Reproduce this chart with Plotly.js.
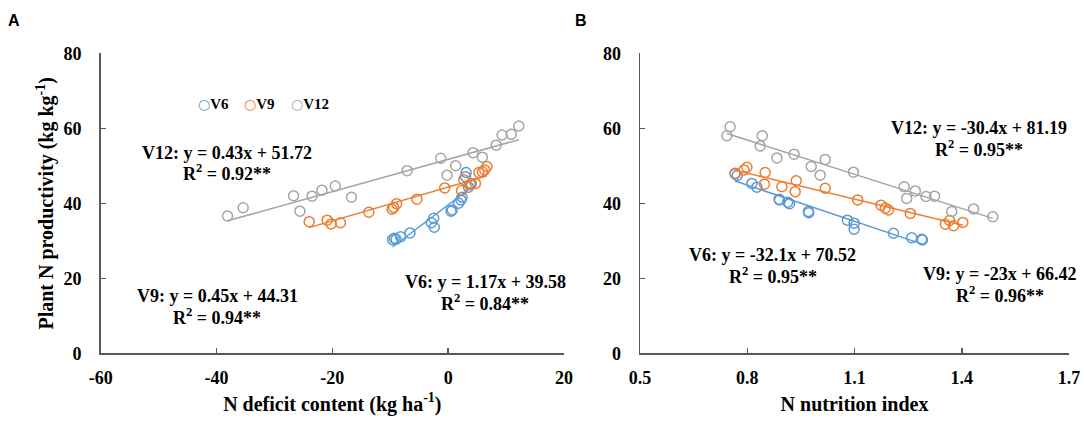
<!DOCTYPE html>
<html>
<head>
<meta charset="utf-8">
<script src="https://cdn.plot.ly/plotly-3.0.1.min.js"></script>
<style>
  html, body { margin: 0; padding: 0; background: #fff; }
  #chart { width: 1084px; height: 438px; }
</style>
</head>
<body>
<div id="chart"></div>
<script>
// series names and colours
const stages = ['V6', 'V9', 'V12'];
const colors = ['#5B9BD5', '#ED7D31', '#A5A5A5'];

// panel A: N deficit content vs plant N productivity
const ndV6x = [-9.6, -9.3, -9.0, -8.2, -6.6, -2.9, -2.5, -2.4, 0.5, 0.7, 1.8, 2.2, 2.4, 3.0, 3.1, 3.5, 4.0];
const ndV6y = [30.3, 30.7, 30.4, 31.1, 32.1, 34.8, 36.0, 33.6, 37.9, 38.2, 40.0, 40.9, 41.6, 47.1, 48.2, 44.3, 45.2];
const ndV9x = [-24.0, -20.9, -20.2, -18.6, -13.7, -9.7, -9.4, -8.9, -5.4, -0.6, 2.3, 2.7, 3.8, 4.7, 5.3, 5.9, 6.3, 6.7];
const ndV9y = [35.1, 35.5, 34.5, 34.8, 37.6, 38.4, 38.9, 39.9, 41.1, 44.1, 43.4, 46.3, 45.0, 45.3, 48.2, 48.4, 48.9, 49.8];
const ndV12x = [-38.1, -35.4, -26.7, -25.6, -23.5, -21.8, -19.5, -16.7, -7.1, -1.3, -0.2, 1.3, 4.3, 5.9, 8.3, 9.3, 10.9, 12.2];
const ndV12y = [36.6, 38.8, 42.0, 37.9, 41.9, 43.5, 44.6, 41.6, 48.7, 52.0, 47.5, 50.0, 53.5, 52.3, 55.5, 58.2, 58.4, 60.6];

// panel B: N nutrition index vs plant N productivity
const nniV6x = [0.766, 0.772, 0.813, 0.827, 0.889, 0.890, 0.913, 0.918, 0.971, 0.972, 1.080, 1.099, 1.099, 1.209, 1.260, 1.288, 1.290];
const nniV6y = [47.8, 47.4, 45.3, 44.3, 41.1, 40.9, 40.3, 39.9, 37.8, 37.5, 35.5, 34.7, 33.1, 32.0, 30.8, 30.4, 30.2];
const nniV9x = [0.766, 0.791, 0.799, 0.850, 0.848, 0.897, 0.937, 0.934, 1.018, 1.109, 1.174, 1.186, 1.195, 1.256, 1.354, 1.366, 1.377, 1.403];
const nniV9y = [48.0, 48.9, 49.6, 48.2, 45.1, 44.4, 46.0, 43.1, 44.0, 40.9, 39.5, 38.7, 38.2, 37.3, 34.4, 35.4, 34.0, 34.9];
const nniV12x = [0.752, 0.743, 0.842, 0.836, 0.883, 0.931, 0.979, 1.004, 1.018, 1.097, 1.239, 1.246, 1.270, 1.300, 1.324, 1.372, 1.433, 1.487];
const nniV12y = [60.4, 58.0, 58.0, 55.3, 52.1, 53.1, 49.8, 47.5, 51.7, 48.3, 44.4, 41.3, 43.3, 41.8, 41.9, 37.8, 38.5, 36.4];

// fitted lines (slope, intercept) and their labels
const ndSlope = [1.17, 0.45, 0.43];
const ndIntercept = [39.58, 44.31, 51.72];
const ndR2 = ['0.84', '0.94', '0.92'];
const nniSlope = [-32.1, -23, -30.4];
const nniIntercept = [70.52, 66.42, 81.19];
const nniR2 = ['0.95', '0.96', '0.95'];

// tick labels
const ndTicks = [-60, -40, -20, 0, 20];
const ndTickText = ['-60', '-40', '-20', '0', '20'];
const nniTicks = [0.5, 0.8, 1.1, 1.4, 1.7];
const nniTickText = ['0.5', '0.8', '1.1', '1.4', '1.7'];
const yTicks = [0, 20, 40, 60, 80];

const ndX = [ndV6x, ndV9x, ndV12x];
const ndY = [ndV6y, ndV9y, ndV12y];
const nniX = [nniV6x, nniV9x, nniV12x];
const nniY = [nniV6y, nniV9y, nniV12y];

const serif = 'Liberation Serif';
const traces = [];

function addPanel(xs, ys, slopes, intercepts, xa, ya) {
    for (let i = 0; i < 3; i++) {
        const lo = Math.min(...xs[i]);
        const hi = Math.max(...xs[i]);
        traces.push({
            x: [lo, hi],
            y: [slopes[i] * lo + intercepts[i], slopes[i] * hi + intercepts[i]],
            xaxis: xa, yaxis: ya,
            mode: 'lines',
            line: { color: colors[i], width: 1.5 },
            hoverinfo: 'skip',
            showlegend: false
        });
        traces.push({
            x: xs[i], y: ys[i],
            xaxis: xa, yaxis: ya,
            mode: 'markers',
            name: stages[i],
            marker: { symbol: 'circle-open', size: 10, color: colors[i], line: { width: 1.5 } },
            showlegend: false
        });
    }
}
addPanel(ndX, ndY, ndSlope, ndIntercept, 'x', 'y');
addPanel(nniX, nniY, nniSlope, nniIntercept, 'x2', 'y2');

function eq(name, slope, intercept) {
    return name + ': y = ' + slope + 'x + ' + intercept.toFixed(2);
}

// label positions in page pixels [x, y] for equation line
const W = 1084, H = 438;
const ndLabelPos = [[485, 282], [217, 296], [227, 153]];
const nniLabelPos = [[773, 255], [1000, 274], [979, 128]];

const boldFont = (size) => ({ family: serif, size: size, weight: 'bold', color: '#000' });

const annotations = [];
function addLabels(pos, slopes, intercepts, r2) {
    for (let i = 0; i < 3; i++) {
        const [px, py] = pos[i];
        annotations.push({
            xref: 'paper', yref: 'paper', x: px / W, y: 1 - py / H,
            xanchor: 'center', yanchor: 'middle', showarrow: false,
            text: eq(stages[i], slopes[i], intercepts[i]),
            font: boldFont(18)
        });
        annotations.push({
            xref: 'paper', yref: 'paper', x: px / W, y: 1 - (py + 20) / H,
            xanchor: 'center', yanchor: 'middle', showarrow: false,
            text: 'R<sup>2</sup> = ' + r2[i] + '**',
            font: boldFont(18)
        });
    }
}
addLabels(ndLabelPos, ndSlope, ndIntercept, ndR2);
addLabels(nniLabelPos, nniSlope, nniIntercept, nniR2);

// legend drawn as text
const legendX = [196, 242, 289];
for (let i = 0; i < 3; i++) {
    annotations.push({
        xref: 'paper', yref: 'paper', x: legendX[i] / W, y: 1 - 104 / H,
        xanchor: 'left', yanchor: 'middle', showarrow: false,
        text: '<span style="color:' + colors[i] + ';font-family:DejaVu Sans;font-weight:normal;font-size:14px">○</span>' + stages[i],
        font: boldFont(15)
    });
}

// panel letters
const sansBold = { family: 'Liberation Sans', size: 16, weight: 'bold', color: '#000' };
annotations.push({ xref: 'paper', yref: 'paper', x: 6 / W, y: 1 - 20 / H, xanchor: 'left', yanchor: 'middle',
    showarrow: false, text: 'A', font: sansBold });
annotations.push({ xref: 'paper', yref: 'paper', x: 573 / W, y: 1 - 20 / H, xanchor: 'left', yanchor: 'middle',
    showarrow: false, text: 'B', font: sansBold });

function axis(extra) {
    return Object.assign({
        showgrid: false, zeroline: false, showline: true,
        linecolor: '#595959', linewidth: 1.5,
        ticks: 'inside', ticklen: 5, tickwidth: 1.5, tickcolor: '#595959',
        tickmode: 'array',
        tickfont: boldFont(18)
    }, extra);
}

const layout = {
    width: W, height: H,
    margin: { l: 0, r: 0, t: 0, b: 0 },
    paper_bgcolor: '#fff', plot_bgcolor: 'rgba(0,0,0,0)',
    showlegend: false,
    font: { family: serif, size: 18, weight: 'bold', color: '#000' },
    xaxis: axis({
        domain: [100.7 / W, 564 / W], range: [-60, 20], anchor: 'y',
        tickvals: ndTicks, ticktext: ndTickText,
        ticklabelstandoff: 8,
        title: { text: 'N deficit content (kg ha<sup>-1</sup>)', font: boldFont(20), standoff: 9 }
    }),
    yaxis: axis({
        domain: [1 - 353.3 / H, 1 - 53.3 / H], range: [0, 80], anchor: 'x',
        tickvals: yTicks, ticktext: yTicks.map(String),
        ticklabelstandoff: 14,
        title: { text: 'Plant N productivity (kg kg<sup>-1</sup>)', font: boldFont(20), standoff: 4 }
    }),
    xaxis2: axis({
        domain: [640 / W, 1069 / W], range: [0.5, 1.7], anchor: 'y2',
        tickvals: nniTicks, ticktext: nniTickText,
        ticklabelstandoff: 8,
        title: { text: 'N nutrition index', font: boldFont(20), standoff: 9 }
    }),
    yaxis2: axis({
        domain: [1 - 353.3 / H, 1 - 53.3 / H], range: [0, 80], anchor: 'x2',
        tickvals: yTicks, ticktext: yTicks.map(String),
        ticklabelstandoff: 14
    }),
    annotations: annotations
};

Plotly.newPlot('chart', traces, layout, { displayModeBar: false, staticPlot: true });
</script>
</body>
</html>
